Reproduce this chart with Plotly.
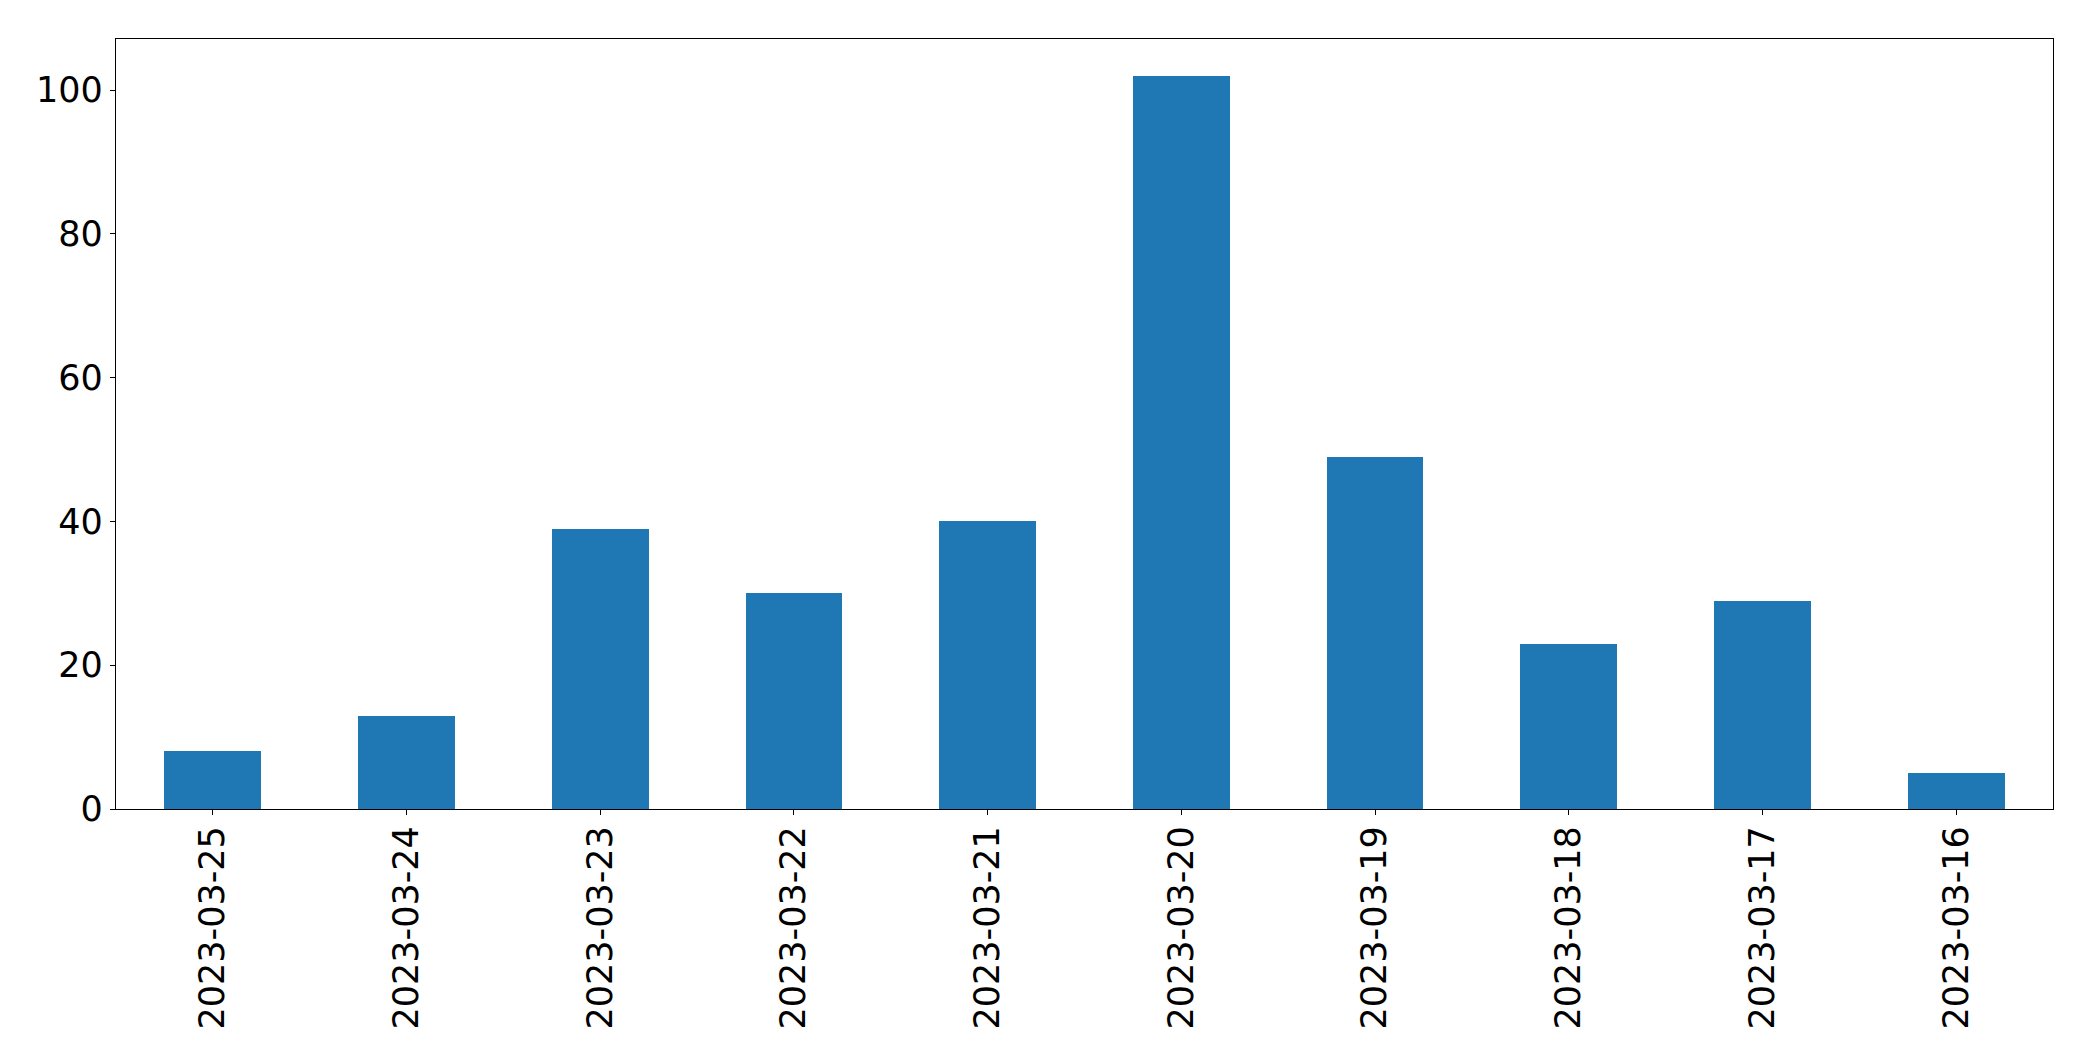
import plotly.graph_objects as go

dates = ["2023-03-25", "2023-03-24", "2023-03-23", "2023-03-22", "2023-03-21",
         "2023-03-20", "2023-03-19", "2023-03-18", "2023-03-17", "2023-03-16"]
counts = [8, 13, 39, 30, 40, 102, 49, 23, 29, 5]
y_ticks = [0, 20, 40, 60, 80, 100]

fig = go.Figure(go.Bar(x=dates, y=counts, width=0.5, marker_color="#1f77b4",
                       marker_line_width=0))

fig.update_layout(
    width=2085, height=1053,
    margin=dict(l=108, r=40, t=31, b=252),
    plot_bgcolor="white", paper_bgcolor="white",
    font=dict(family="DejaVu Sans", size=35, color="black"),
    showlegend=False,
    bargap=0,
)
fig.update_xaxes(type="category", range=[-0.5, 9.5], tickangle=-90,
                 showline=True, linecolor="black", linewidth=1.3, mirror=True,
                 ticks="outside", ticklen=5, tickcolor="black", tickwidth=1.3,
                 showgrid=False, zeroline=False, ticklabelstandoff=-3)
fig.update_yaxes(range=[0, 107.1], tickvals=y_ticks,
                 showline=True, linecolor="black", linewidth=1.3, mirror=True,
                 ticks="outside", ticklen=5, tickcolor="black", tickwidth=1.3,
                 showgrid=False, zeroline=False, ticklabelstandoff=0)

fig.write_html("out.html")
